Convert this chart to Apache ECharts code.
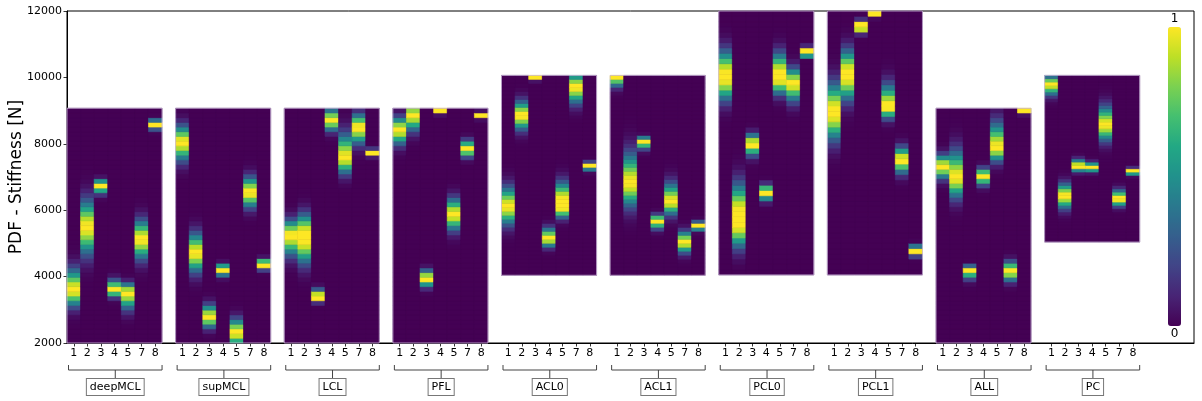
<!DOCTYPE html>
<html>
<head>
<meta charset="utf-8">
<script src="https://cdn.jsdelivr.net/npm/echarts@6/dist/echarts.min.js"></script>
<style>
html,body{margin:0;padding:0;background:#fff;}
#chart{width:1202px;height:401px;}
</style>
</head>
<body>
<div id="chart"></div>
<script>
// ---------------- data ----------------
const groups = ['deepMCL','supMCL','LCL','PFL','ACL0','ACL1','PCL0','PCL1','ALL','PC'];
const columns = ['1','2','3','4','5','7','8'];
const yTicks = [2000, 4000, 6000, 8000, 10000, 12000];
// support (range) of each group's PDF image, in N
const rangeLow  = [2000, 2000, 2000, 2000, 4040, 4040, 4050, 4050, 2000, 5040];
const rangeHigh = [9070, 9070, 9070, 9070, 10060, 10060, 12000, 12000, 9070, 10060];
// peak location of each column's PDF (N)
const peakMean = [
  [3600, 5500, 6750, 3610, 3530, 5130, 8600],
  [8050, 4720, 2790, 4220, 2320, 6540, 4380],
  [5250, 5200, 3390, 8720, 7590, 8500, 7750],
  [8430, 8880, 3950, 9010, 5880, 7850, 8860],
  [6120, 8860, 10030, 5150, 6200, 9720, 7345],
  [10030, 6830, 8080, 5680, 6265, 5045, 5530],
  [10040, 5760, 8000, 6545, 10040, 9830, 10730],
  [8960, 10090, 11530, 11960, 9115, 7520, 4790],
  [7320, 7000, 4210, 7030, 7890, 4170, 9010],
  [9800, 6440, 7330, 7290, 8575, 6345, 7175]
];
// spread above the peak (N)
const spreadHigh = [
  [400, 505, 110, 180, 170, 360, 80],
  [315, 370, 225, 100, 255, 290, 95],
  [290, 360, 140, 200, 450, 250, 60],
  [235, 200, 155, 60, 300, 160, 55],
  [370, 270, 60, 200, 330, 250, 70],
  [100, 560, 85, 120, 350, 200, 85],
  [440, 540, 185, 140, 380, 285, 105],
  [520, 420, 110, 70, 420, 240, 95],
  [220, 500, 80, 150, 470, 180, 60],
  [150, 230, 125, 95, 350, 165, 60]
];
// spread below the peak (N)
const spreadLow = [
  [310, 520, 150, 135, 310, 375, 100],
  [350, 365, 200, 120, 255, 280, 100],
  [380, 430, 90, 200, 300, 310, 70],
  [275, 300, 155, 60, 300, 150, 55],
  [345, 270, 60, 155, 180, 310, 85],
  [185, 450, 140, 145, 250, 200, 80],
  [410, 430, 215, 150, 280, 340, 60],
  [500, 440, 110, 70, 215, 250, 100],
  [225, 390, 165, 165, 260, 185, 60],
  [205, 240, 100, 80, 300, 135, 65]
];
// half-width of flat top of the peak (N)
const peakFlat = [
  [0,0,0,0,0,0,0],
  [0,0,0,0,0,0,0],
  [0,120,0,0,0,0,0],
  [0,0,0,0,0,0,0],
  [0,0,0,0,140,0,0],
  [0,0,0,0,0,0,0],
  [80,200,0,0,100,0,0],
  [60,80,0,0,0,0,0],
  [0,0,0,0,0,0,0],
  [0,0,0,0,0,0,0]
];
const binsPerGroup = 50;
const slotsPerGroup = 8;   // 7 columns + 1 empty gap slot
const extraSlots = 3;      // room for the colour bar
const viridis = ['#440154','#482475','#414487','#355f8d','#2a788e','#21918c','#22a884','#44bf70','#7ad151','#bddf26','#fde725'];

// ---------------- build ----------------
const FONT = 'DejaVu Sans';
const categories = [];
for (let g = 0; g < groups.length; g++) {
  for (let k = 0; k < slotsPerGroup; k++) categories.push(k < columns.length ? columns[k] : '');
}
for (let i = 0; i < extraSlots; i++) categories.push('');

function density(v, m, sh, sl, p) {
  let d = v - m;
  if (Math.abs(d) <= p) return 1;
  d = d > 0 ? (d - p) / sh : (-d - p) / sl;
  return Math.exp(-0.5 * d * d);
}

const heatData = [];
for (let g = 0; g < groups.length; g++) {
  const lo = rangeLow[g], hi = rangeHigh[g];
  const step = (hi - lo) / binsPerGroup;
  for (let k = 0; k < columns.length; k++) {
    const vals = [];
    for (let b = 0; b < binsPerGroup; b++) {
      const c = lo + (b + 0.5) * step;
      vals.push(density(c, peakMean[g][k], spreadHigh[g][k], spreadLow[g][k], peakFlat[g][k]));
    }
    const mx = Math.max.apply(null, vals);
    for (let b = 0; b < binsPerGroup; b++) {
      heatData.push([g * slotsPerGroup + k, lo + b * step, lo + (b + 1) * step, vals[b] / mx]);
    }
  }
}
const groupData = groups.map((name, g) => [g, rangeLow[g], rangeHigh[g]]);

function groupRect(api) {
  const g = api.value(0);
  const w = api.size([1, 0])[0];
  const a = api.coord([g * slotsPerGroup, api.value(1)]);
  const b = api.coord([g * slotsPerGroup + columns.length - 1, api.value(2)]);
  return {x: a[0] - w / 2, y: b[1], width: b[0] - a[0] + w, height: a[1] - b[1]};
}

const chart = echarts.init(document.getElementById('chart'), null, {renderer: 'canvas'});
chart.setOption({
  animation: false,
  backgroundColor: '#fff',
  textStyle: {fontFamily: FONT},
  grid: {left: 67, right: 8, top: 11, bottom: 58, containLabel: false, outerBoundsMode: 'none',
    show: true, borderColor: '#000', borderWidth: 1, backgroundColor: 'transparent'},
  xAxis: {
    type: 'category',
    data: categories,
    boundaryGap: true,
    axisLine: {lineStyle: {color: '#000', width: 1}},
    axisTick: {show: true, alignWithLabel: true, length: 3.5, lineStyle: {color: '#000', width: 0.8},
      interval: (i, v) => v !== ''},
    axisLabel: {interval: 0, fontSize: 11, color: '#000', margin: 5, fontFamily: FONT},
    splitLine: {show: false}
  },
  yAxis: {
    type: 'value',
    min: yTicks[0], max: yTicks[yTicks.length - 1], interval: 2000,
    name: 'PDF - Stiffness [N]',
    nameLocation: 'middle',
    nameGap: 42,
    nameMoveOverlap: false,
    nameTextStyle: {fontSize: 17, color: '#000', fontFamily: FONT},
    axisLine: {show: true, lineStyle: {color: '#000', width: 1}},
    axisTick: {show: true, length: 3.5, lineStyle: {color: '#000', width: 0.8}},
    axisLabel: {fontSize: 11, color: '#000', margin: 5, fontFamily: FONT, formatter: v => String(v)},
    splitLine: {show: false}
  },
  visualMap: {
    type: 'continuous',
    min: 0, max: 1,
    seriesIndex: 1,
    dimension: 3,
    calculable: false,
    hoverLink: false,
    orient: 'vertical',
    left: 1168, top: 13,
    padding: 0,
    itemWidth: 13, itemHeight: 299,
    text: ['1', '0'],
    textGap: 2,
    textStyle: {fontSize: 12, color: '#000', fontFamily: FONT},
    inRange: {color: viridis}
  },
  series: [
    {
      type: 'custom',
      name: 'background',
      data: groupData,
      encode: {x: 0, y: [1, 2]},
      renderItem: function (params, api) {
        return {type: 'rect', shape: groupRect(api), style: {fill: viridis[0], stroke: null}};
      },
      z: 1
    },
    {
      type: 'custom',
      name: 'pdf',
      data: heatData,
      encode: {x: 0, y: [1, 2]},
      progressive: 0,
      renderItem: function (params, api) {
        const x = api.value(0);
        const p0 = api.coord([x, api.value(1)]);
        const p1 = api.coord([x, api.value(2)]);
        const w = api.size([1, 0])[0];
        const c = api.visual('color');
        return {
          type: 'rect',
          shape: {x: p0[0] - w / 2, y: p1[1], width: w, height: p0[1] - p1[1]},
          style: {fill: c, stroke: c, lineWidth: 0.6}
        };
      },
      z: 2
    },
    {
      type: 'custom',
      name: 'frames',
      data: groupData,
      encode: {x: 0, y: [1, 2]},
      renderItem: function (params, api) {
        return {type: 'rect', shape: groupRect(api),
          style: {fill: null, stroke: 'rgba(205,190,220,0.8)', lineWidth: 1}};
      },
      z: 3
    },
    {
      type: 'custom',
      name: 'brackets',
      data: groupData,
      clip: false,
      encode: {x: 0, y: 1},
      renderItem: function (params, api) {
        const g = api.value(0);
        const w = api.size([1, 0])[0];
        const a = api.coord([g * slotsPerGroup, yTicks[0]]);
        const b = api.coord([g * slotsPerGroup + columns.length - 1, yTicks[0]]);
        const x0 = a[0] - w / 2 + 1.5, x1 = b[0] + w / 2;
        const xm = (x0 + x1) / 2;
        const yb = a[1] + 27;
        const ls = {stroke: '#444', lineWidth: 1, fill: null};
        return {
          type: 'group',
          children: [
            {type: 'polyline', shape: {points: [[x0, yb - 5], [x0, yb], [x1, yb], [x1, yb - 5]]}, style: ls},
            {type: 'line', shape: {x1: xm, y1: yb, x2: xm, y2: yb + 8}, style: ls},
            {type: 'text', x: xm, y: yb + 17, style: {
              text: groups[g], fontSize: 11, fontFamily: FONT, fill: '#000',
              align: 'center', verticalAlign: 'middle',
              borderColor: '#777', borderWidth: 1, padding: [3, 3, 2, 3], backgroundColor: '#fff'
            }}
          ]
        };
      },
      z: 4
    }
  ]
});
</script>
</body>
</html>
